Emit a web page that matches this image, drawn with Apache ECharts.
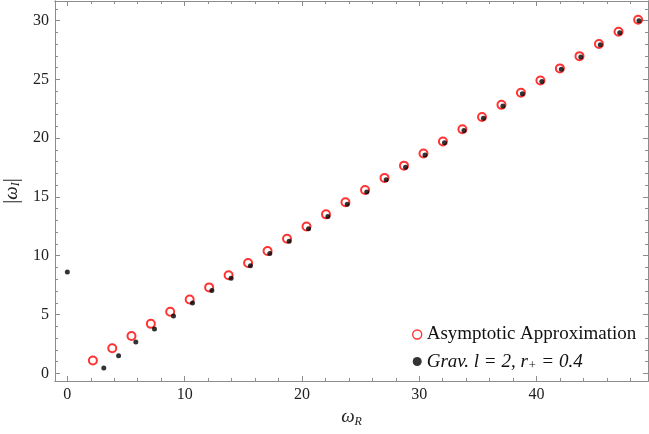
<!DOCTYPE html>
<html>
<head>
<meta charset="utf-8">
<script src="https://cdn.jsdelivr.net/npm/echarts@6/dist/echarts.min.js"></script>
<style>
  html, body { margin: 0; padding: 0; background: #fff; }
  #chart { width: 649px; height: 434px; }
</style>
</head>
<body>
<div id="chart"></div>
<script>
// Asymptotic approximation (open red circles)
const asymRe = [2.18, 3.83, 5.47, 7.12, 8.77, 10.43, 12.09, 13.75, 15.41, 17.07,
    18.73, 20.39, 22.05, 23.71, 25.38, 27.04, 28.70, 30.36, 32.02, 33.68,
    35.35, 37.01, 38.67, 40.33, 41.99, 43.66, 45.32, 46.99, 48.66];
const asymIm = [1.10, 2.14, 3.17, 4.21, 5.24, 6.28, 7.31, 8.34, 9.38, 10.41,
    11.45, 12.48, 13.52, 14.55, 15.59, 16.62, 17.66, 18.69, 19.72, 20.76,
    21.79, 22.83, 23.86, 24.90, 25.93, 26.97, 28.00, 29.04, 30.07];

// Numerical gravitational modes, l = 2, r+ = 0.4 (black dots)
const gravRe = [0.00, 3.11, 4.37, 5.84, 7.43, 9.05, 10.67, 12.32, 13.96, 15.61,
    17.26, 18.91, 20.56, 22.21, 23.86, 25.52, 27.18, 28.83, 30.49, 32.15,
    33.81, 35.47, 37.13, 38.79, 40.45, 42.11, 43.77, 45.43, 47.09, 48.73];
const gravIm = [8.61, 0.45, 1.50, 2.66, 3.77, 4.87, 5.98, 7.04, 8.09, 9.14,
    10.19, 11.24, 12.29, 13.34, 14.38, 15.43, 16.47, 17.52, 18.56, 19.61,
    20.65, 21.69, 22.73, 23.77, 24.81, 25.85, 26.89, 27.93, 28.96, 29.99];

// Ticks
const xMajor = [0, 10, 20, 30, 40];
const xMinor = [2, 4, 6, 8, 12, 14, 16, 18, 22, 24, 26, 28, 32, 34, 36, 38, 42, 44, 46, 48];
const yMajor = [0, 5, 10, 15, 20, 25, 30];
const yMinor = [1, 2, 3, 4, 6, 7, 8, 9, 11, 12, 13, 14, 16, 17, 18, 19,
    21, 22, 23, 24, 26, 27, 28, 29, 31];

const xRange = { min: -1.05, max: 49.5 };
const yRange = { min: -0.65, max: 31.66 };

const frameColor = '#8c8c8c';
const serif = '"Liberation Serif", "DejaVu Serif", serif';

const pairs = (xs, ys) => xs.map((x, i) => [x, ys[i]]);

// One axis carrying a set of inward ticks, optionally with labels
const makeAxis = (range, position, ticks, len, withLabels, extra) => Object.assign({
    type: 'value',
    position: position,
    min: range.min,
    max: range.max,
    splitLine: { show: false },
    axisLine: { show: true, onZero: false, lineStyle: { color: frameColor, width: 1 } },
    axisTick: {
        show: true, inside: true, length: len, customValues: ticks,
        lineStyle: { color: frameColor, width: 1 }
    },
    axisLabel: withLabels ? {
        show: true, customValues: ticks, color: '#222',
        fontFamily: serif, fontSize: 16, margin: position === 'bottom' ? 6 : 6
    } : { show: false }
}, extra || {});

const chart = echarts.init(document.getElementById('chart'), null, { renderer: 'canvas' });

chart.setOption({
    backgroundColor: '#fff',
    animation: false,
    grid: { left: 55, right: 1, top: 1, bottom: 53, outerBoundsMode: 'none', containLabel: false },
    xAxis: [
        makeAxis(xRange, 'bottom', xMajor, 5, true, {
            name: '{w|ω}{s|R}',
            nameLocation: 'middle',
            nameGap: 23,
            nameTextStyle: {
                rich: {
                    w: { fontFamily: serif, fontStyle: 'italic', fontSize: 19, color: '#222' },
                    s: { fontFamily: serif, fontStyle: 'italic', fontSize: 12, color: '#222', padding: [8, 0, 0, 0] }
                }
            }
        }),
        makeAxis(xRange, 'bottom', xMinor, 3, false),
        makeAxis(xRange, 'top', xMajor, 5, false),
        makeAxis(xRange, 'top', xMinor, 3, false)
    ],
    yAxis: [
        makeAxis(yRange, 'left', yMajor, 5, true, {
            name: '{b||}{w|ω}{s|I}{b||}',
            nameLocation: 'middle',
            nameRotate: 90,
            nameGap: 31,
            nameTextStyle: {
                rich: {
                    b: { fontFamily: serif, fontSize: 20, color: '#222' },
                    w: { fontFamily: serif, fontStyle: 'italic', fontSize: 19, color: '#222' },
                    s: { fontFamily: serif, fontStyle: 'italic', fontSize: 12, color: '#222', padding: [8, 0, 0, 0] }
                }
            }
        }),
        makeAxis(yRange, 'left', yMinor, 3, false),
        makeAxis(yRange, 'right', yMajor, 5, false),
        makeAxis(yRange, 'right', yMinor, 3, false)
    ],
    legend: {
        orient: 'vertical',
        left: 407,
        top: 320,
        itemWidth: 9,
        itemHeight: 9,
        itemGap: 8,
        textStyle: {
            fontFamily: serif, fontSize: 19, color: '#111',
            rich: {
                n: { fontFamily: serif, fontSize: 19, color: '#111' },
                i: { fontFamily: serif, fontSize: 19, fontStyle: 'italic', color: '#111' },
                s: { fontFamily: serif, fontSize: 13, fontStyle: 'italic', color: '#111', padding: [8, 0, 0, 0] }
            }
        },
        formatter: (name) => {
            if (name.indexOf('Grav') === 0) {
                return '{i|Grav. l = 2, r}{s|+}{i| = 0.4}';
            }
            return '{n|' + name + '}';
        },
        data: [
            { name: 'Asymptotic Approximation', icon: 'circle',
              itemStyle: { color: '#fff', borderColor: '#ff0000', borderWidth: 1.4 } },
            { name: 'Grav. l = 2, r+ = 0.4', icon: 'circle',
              itemStyle: { color: '#000', borderWidth: 0 } }
        ]
    },
    series: [
        {
            name: 'Asymptotic Approximation',
            type: 'scatter',
            xAxisIndex: 0,
            yAxisIndex: 0,
            symbol: 'circle',
            symbolSize: 8,
            itemStyle: { color: 'rgba(255,255,255,0)', borderColor: '#ff0000', borderWidth: 2 },
            data: pairs(asymRe, asymIm)
        },
        {
            name: 'Grav. l = 2, r+ = 0.4',
            type: 'scatter',
            xAxisIndex: 0,
            yAxisIndex: 0,
            symbol: 'circle',
            symbolSize: 5,
            itemStyle: { color: '#000' },
            data: pairs(gravRe, gravIm)
        }
    ]
});
</script>
</body>
</html>
